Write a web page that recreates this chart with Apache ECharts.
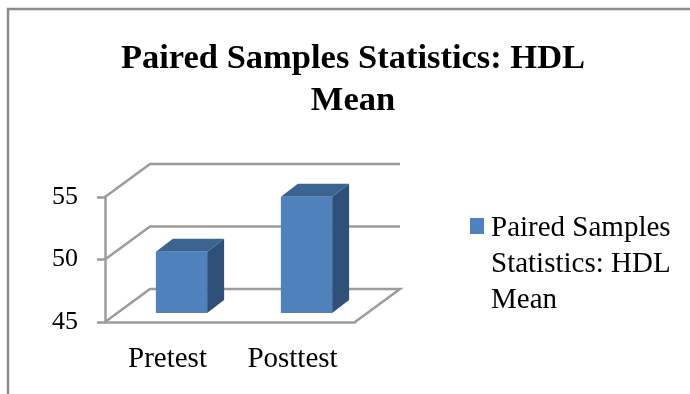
<!DOCTYPE html>
<html lang="en">
<head>
    <meta charset="utf-8">
    <title>Paired Samples Statistics: HDL Mean</title>
    <script src="https://cdn.jsdelivr.net/npm/echarts@6/dist/echarts.min.js"></script>
    <style>
        html, body { margin: 0; padding: 0; background: #fff; }
        #chart { width: 690px; height: 394px; }
    </style>
</head>
<body>
    <div id="chart"></div>
    <script>
        var categories = ['Pretest', 'Posttest'];
        var meanValues = [49.9, 54.3];
        var valueTicks = [45, 50, 55];
        var seriesName = 'Paired Samples\nStatistics: HDL\nMean';
        var titleText = 'Paired Samples Statistics: HDL\nMean';

        var serif = '"Liberation Serif", serif';
        var wallColor = '#9c9c9c';
        // 3D look: how far the back wall sits from the front plane, and the bar depth
        var wallDx = 45, wallDy = -33;
        var barDx = 17, barDy = -13;
        var barOffsetX = 14, barOffsetY = -9;
        var barShare = 0.41;
        // legend square drawn at the top of a box as tall as the three text lines
        var legendIcon = 'path://M0,8H14V24H0Z M0,0L0,0 M14,108L14,108';

        function drawWalls(params, api) {
            var y = api.coord([0, api.value(1)])[1];
            var box = params.coordSys;
            var left = box.x, right = box.x + box.width;
            var pts = [[left, y], [left + wallDx, y + wallDy], [right + wallDx, y + wallDy]];
            // the lowest tick also closes the floor
            if (params.dataIndex === 0) {
                pts.push([right, y]);
            }
            return {
                type: 'polyline',
                shape: { points: pts },
                style: { stroke: wallColor, lineWidth: 2.5, fill: null }
            };
        }

        function drawBar(params, api) {
            var top = api.coord([api.value(0), api.value(1)]);
            var base = api.coord([api.value(0), valueTicks[0]]);
            var w = api.size([1, 0])[0] * barShare;
            var x0 = top[0] - w / 2 + barOffsetX;
            var x1 = x0 + w;
            var y0 = top[1] + barOffsetY;
            var y1 = base[1] + barOffsetY;
            return {
                type: 'group',
                children: [
                    {
                        type: 'polygon',
                        shape: { points: [[x1, y0], [x1 + barDx, y0 + barDy], [x1 + barDx, y1 + barDy], [x1, y1]] },
                        style: { fill: '#2f5078' }
                    },
                    {
                        type: 'polygon',
                        shape: { points: [[x0, y0], [x0 + barDx, y0 + barDy], [x1 + barDx, y0 + barDy], [x1, y0]] },
                        style: { fill: '#3c6491' }
                    },
                    {
                        type: 'rect',
                        shape: { x: x0, y: y0, width: w, height: y1 - y0 },
                        style: { fill: '#4f81bd' }
                    }
                ]
            };
        }

        var myChart = echarts.init(document.getElementById('chart'), null, { renderer: 'canvas' });
        myChart.setOption({
            animation: false,
            backgroundColor: '#fff',
            title: {
                text: titleText,
                left: 348,
                top: 33,
                textAlign: 'center',
                textStyle: { fontFamily: serif, fontSize: 34.5, fontWeight: 'bold', color: '#000', lineHeight: 42 }
            },
            legend: {
                left: 470,
                top: 210,
                padding: 0,
                itemWidth: 14,
                itemHeight: 108,
                symbolKeepAspect: false,
                data: [{ name: seriesName, icon: legendIcon }],
                textStyle: { fontFamily: serif, fontSize: 29, color: '#000', lineHeight: 36, padding: [0, 0, 0, 2] }
            },
            grid: { left: 105, right: 335, top: 197, bottom: 72 },
            xAxis: {
                type: 'category',
                data: categories,
                axisLine: { lineStyle: { color: wallColor, width: 2.5 } },
                axisTick: { length: 8, lineStyle: { color: wallColor, width: 2.5 } },
                axisLabel: { fontFamily: serif, fontSize: 29, color: '#000', margin: 23 }
            },
            yAxis: {
                type: 'value',
                min: 45,
                max: 55,
                interval: 5,
                splitLine: { show: false },
                axisLine: { show: true, lineStyle: { color: wallColor, width: 2.5 } },
                axisTick: { show: true, length: 8, lineStyle: { color: wallColor, width: 2.5 } },
                axisLabel: { fontFamily: serif, fontSize: 26, color: '#000', margin: 27 }
            },
            series: [
                {
                    type: 'custom',
                    name: 'walls',
                    silent: true,
                    renderItem: drawWalls,
                    data: valueTicks.map(function (t) { return [0, t]; }),
                    z: 1
                },
                {
                    type: 'custom',
                    name: seriesName,
                    itemStyle: { color: '#4f81bd' },
                    renderItem: drawBar,
                    data: meanValues.map(function (v, i) { return [i, v]; }),
                    z: 2
                }
            ],
            graphic: [
                {
                    type: 'polyline',
                    silent: true,
                    shape: { points: [[8, 394], [8, 9], [690, 9]] },
                    style: { stroke: '#8c8c8c', lineWidth: 2.5, fill: null }
                }
            ]
        });
    </script>
</body>
</html>
